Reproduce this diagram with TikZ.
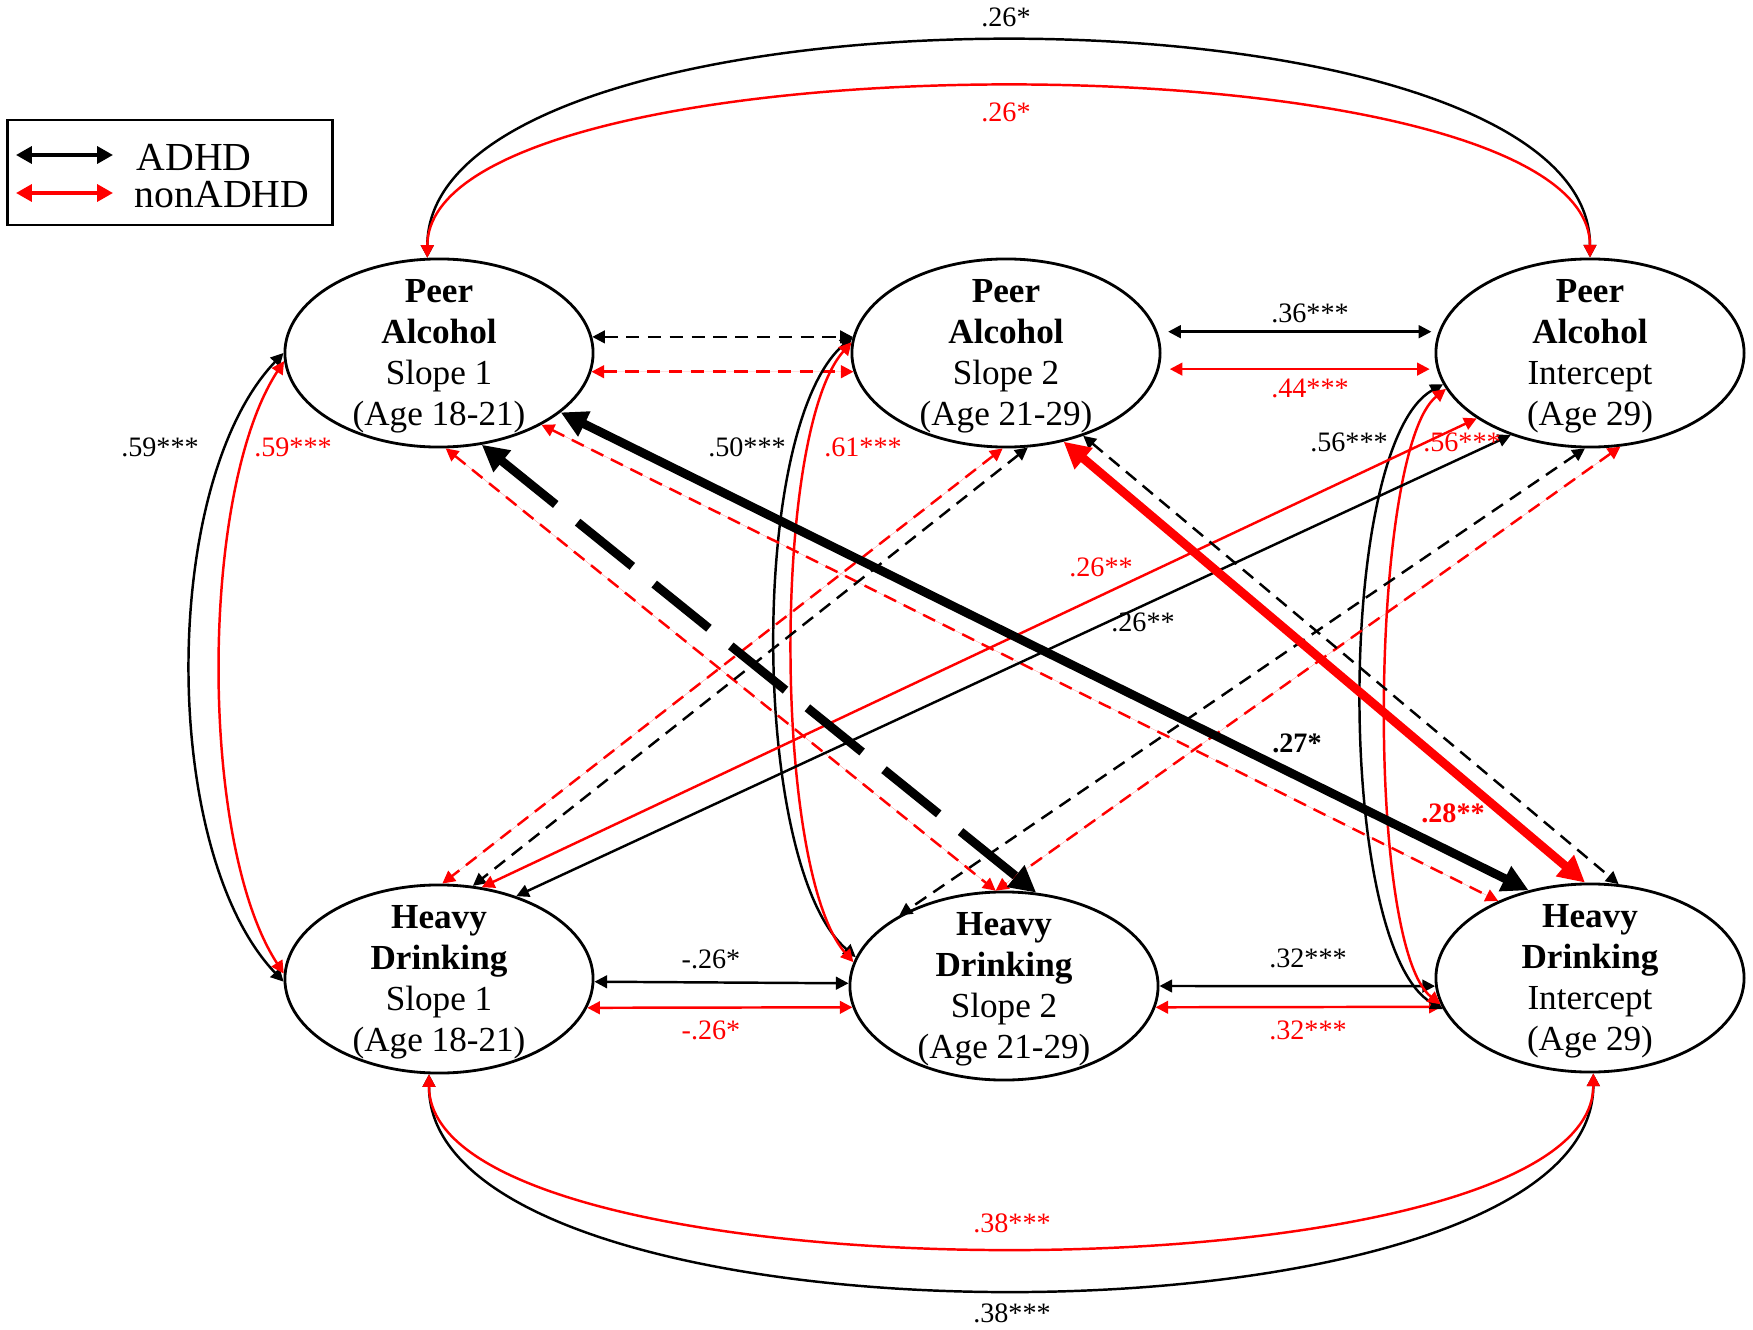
\documentclass[tikz,border=0pt]{standalone}
\usepackage{fontspec}
\setmainfont{Liberation Serif}
\usetikzlibrary{arrows.meta,shapes.geometric}
\begin{document}
\begin{tikzpicture}[x=0.01cm,y=-0.01cm,
  latent/.style={draw,line width=0.8pt,ellipse,fill=white,minimum width=3.08cm,minimum height=1.88cm,inner sep=0pt},
  ltxt/.style={align=center,inner sep=0pt,yshift=-1pt,font=\fontsize{10}{11.7}\selectfont},
  lab/.style={inner sep=0pt,font=\fontsize{8}{9.5}\selectfont},
  rlab/.style={lab,text=red},
  tipthin/.style={{Triangle[length=3.6pt,width=3.6pt]}-{Triangle[length=3.6pt,width=3.6pt]}},
  tipthick/.style={{Triangle[length=7.5pt,width=7.5pt]}-{Triangle[length=7.5pt,width=7.5pt]}},
  legtip/.style={{Triangle[length=4.5pt,width=4.8pt]}-{Triangle[length=4.5pt,width=4.8pt]}},
  bk/.style={line width=0.7pt,draw=black,tipthin},
  rd/.style={line width=0.7pt,draw=red,fill=red,tipthin},
  dsh/.style={dash pattern=on 3.8pt off 2.4pt},
  thk/.style={line width=2.5pt,tipthick},
  thkdsh/.style={dash pattern=on 20pt off 8pt}]
\useasboundingbox (0,0) rectangle (1753,1330);

% latent variables
\node[latent] (pa1) at (439,353) {};
\node[latent] (pa2) at (1006,353) {};
\node[latent] (pai) at (1590,353) {};
\node[latent] (hd1) at (439,979) {};
\node[latent] (hd2) at (1004,986) {};
\node[latent] (hdi) at (1590,978) {};

% legend
\node[draw,line width=0.8pt,minimum width=3.24cm,minimum height=1.05cm,inner sep=0pt] (legend) at (170,172.5) {};
\coordinate (lga) at (16,155);
\coordinate (lgb) at (113,155);
\coordinate (lgc) at (16,193);
\coordinate (lgd) at (113,193);
\draw[line width=1pt,legtip] (lga) -- (lgb);
\draw[line width=1pt,red,legtip] (lgc) -- (lgd);
\node[anchor=west,inner sep=0pt,font=\fontsize{11.3}{13}\selectfont] (lgt1) at (136,157) {ADHD};
\node[anchor=west,inner sep=0pt,font=\fontsize{11.3}{13}\selectfont] (lgt2) at (134,195) {nonADHD};

% top arcs
\draw[bk] (pa1.97) .. controls +(0,-288) and +(0,-288) .. (pai.90);
\draw[rd,fill=none] (pa1.97) .. controls +(0,-227) and +(0,-227) .. (pai.90);
% bottom arcs
\draw[bk] (hd1.264) .. controls +(0,287) and +(0,287) .. (hdi.272);
\draw[rd,fill=none] (hd1.264) .. controls +(0,231) and +(0,231) .. (hdi.272);

% horizontal top row
\draw[bk,dsh] (pa1.6) -- (pa2.174);
\draw[rd,dsh] (pa1.-7) -- (pa2.187);
\draw[bk,shorten <=3pt,shorten >=2pt] (pa2.8) -- (pai.172);
\draw[rd,shorten <=3pt,shorten >=2pt] (pa2.-6) -- (pai.186);
% horizontal bottom row
\draw[bk] (hd1.-1) -- (hd2.179);
\draw[rd] (hd1.-11) -- (hd2.188);
\draw[bk] (hd2.0) -- (hdi.183);
\draw[rd] (hd2.-8) -- (hdi.191);

% vertical curves
\draw[bk] (pa1.180) .. controls +(-124,130) and +(-124,-130) .. (hd1.181);
\draw[rd,fill=none] (pa1.183) .. controls +(-85,130) and +(-85,-130) .. (hd1.178);
\draw[bk] (pa2.174) .. controls +(-105,90) and +(-105,-90) .. (hd2.169);
\draw[rd,fill=none] (pa2.176) .. controls +(-80,90) and +(-80,-90) .. (hd2.171);
\draw[bk] (pai.192) .. controls +(-108,60) and +(-108,-60) .. (hdi.192);
\draw[rd,fill=none] (pai.194) .. controls +(-76,60) and +(-76,-60) .. (hdi.190);

% diagonals
\draw[rd,dsh] (pa1.-86) -- (hd2.95);
\draw[rd,dsh] (pa1.-35) -- (hdi.140);
\draw[rd,dsh] (pa2.-92) -- (hd1.88);
\draw[bk,dsh] (pa2.-77) -- (hd1.70);
\draw[rd] (pai.-150) -- (hd1.65);
\draw[bk] (pai.-134) -- (hd1.47);
\draw[bk,dsh] (pai.-93) -- (hd2.146);
\draw[rd,dsh] (pai.-72) -- (hd2.95);
\draw[bk,dsh] (pa2.-47) -- (hdi.73);
\draw[bk,thk,thkdsh] (pa1.-65) -- (hd2.71);
\draw[bk,thk] (pa1.-26) -- (hdi.125);
\draw[rd,thk] (pa2.-57) -- (hdi.93);

% texts in ellipses
\node[ltxt] (pa1t) at (pa1) {\textbf{Peer}\\\textbf{Alcohol}\\Slope 1\\(Age 18-21)};
\node[ltxt] (pa2t) at (pa2) {\textbf{Peer}\\\textbf{Alcohol}\\Slope 2\\(Age 21-29)};
\node[ltxt] (pait) at (pai) {\textbf{Peer}\\\textbf{Alcohol}\\Intercept\\(Age 29)};
\node[ltxt] (hd1t) at (hd1) {\textbf{Heavy}\\\textbf{Drinking}\\Slope 1\\(Age 18-21)};
\node[ltxt] (hd2t) at (hd2) {\textbf{Heavy}\\\textbf{Drinking}\\Slope 2\\(Age 21-29)};
\node[ltxt] (hdit) at (hdi) {\textbf{Heavy}\\\textbf{Drinking}\\Intercept\\(Age 29)};

% labels
\node[lab] (l1) at (1006,17) {.26*};
\node[rlab] (l2) at (1006,112) {.26*};
\node[rlab] (l3) at (1012,1223) {.38***};
\node[lab] (l4) at (1012,1313) {.38***};
\node[lab] (l5) at (1310,313) {.36***};
\node[rlab] (l6) at (1310,388) {.44***};
\node[lab] (l7) at (711,959) {-.26*};
\node[rlab] (l8) at (711,1030) {-.26*};
\node[lab] (l9) at (1308,958) {.32***};
\node[rlab] (l10) at (1308,1030) {.32***};
\node[lab] (l11) at (160,447) {.59***};
\node[rlab] (l12) at (293,447) {.59***};
\node[lab] (l13) at (747,447) {.50***};
\node[rlab] (l14) at (863,447) {.61***};
\node[lab] (l15) at (1349,442) {.56***};
\node[rlab] (l16) at (1462,442) {.56***};
\node[rlab] (l17) at (1101,567) {.26**};
\node[lab] (l18) at (1143,622) {.26**};
\node[lab,font=\fontsize{8}{9.5}\selectfont\bfseries] (l19) at (1297,743) {.27*};
\node[rlab,font=\fontsize{8}{9.5}\selectfont\bfseries] (l20) at (1453,813) {.28**};
\end{tikzpicture}
\end{document}
